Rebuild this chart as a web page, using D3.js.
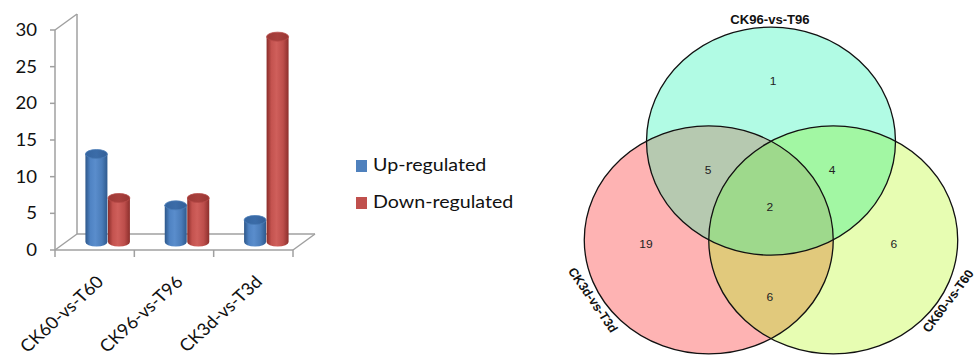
<!DOCTYPE html>
<html><head><meta charset="utf-8">
<script src="https://cdn.jsdelivr.net/npm/d3@7"></script>
<style>body{margin:0;background:#fff} svg{display:block}</style>
</head><body>
<svg id="chart" width="976" height="357"></svg>
<script>
// ---- bar chart data ----
const categories = ["CK60-vs-T60", "CK96-vs-T96", "CK3d-vs-T3d"];
const upRegulated = [12, 5, 3];
const downRegulated = [6, 6, 28];
const seriesNames = ["Up-regulated", "Down-regulated"];
const yTicks = [0, 5, 10, 15, 20, 25, 30];

// ---- venn data (membership: top, left, right) ----
const vennSets = ["CK96-vs-T96", "CK3d-vs-T3d", "CK60-vs-T60"];
const vennRegions = ["100", "110", "101", "111", "010", "001", "011"];
const vennCounts = [1, 5, 4, 2, 19, 6, 6];

const svg = d3.select("#chart");
const SX = 1.092;               // horizontal text stretch
const txtFont = "Lato, 'Open Sans', sans-serif";

// ---------- 3D column chart ----------
const depth = {dx: 22, dy: -16};
const x = d3.scaleBand().domain(categories).range([55, 293]).padding(0);
const yFront = d3.scaleLinear().domain([0, 30]).range([250, 30]);
const yMid = v => yFront(v) + depth.dy / 2;

const defs = svg.append("defs");
function cylGrad(id, stops) {
  const g = defs.append("linearGradient").attr("id", id)
    .attr("x1", "0%").attr("x2", "100%").attr("y1", "0%").attr("y2", "0%");
  stops.forEach(s => g.append("stop").attr("offset", s[0]).attr("stop-color", s[1]));
}
cylGrad("gUp", [["0%", "#2d578a"], ["22%", "#4f83c3"], ["45%", "#5a8dcc"], ["75%", "#4a7cb9"], ["100%", "#2f5a8e"]]);
cylGrad("gDown", [["0%", "#8a2d2a"], ["22%", "#c4534f"], ["45%", "#cf5f5b"], ["75%", "#bd4e4b"], ["100%", "#8c2f2c"]]);
cylGrad("cUp", [["0%", "#3565a0"], ["50%", "#3b6ca8"], ["100%", "#335f97"]]);
cylGrad("cDown", [["0%", "#9d3936"], ["50%", "#a8403d"], ["100%", "#983633"]]);

const wall = svg.append("g").attr("stroke", "#a0a0a0").attr("stroke-width", 1.5).attr("fill", "none");
const x0 = x.range()[0], x1 = x.range()[1];
const yTop = yFront(30), yBase = yFront(0);
const seg = (a, b, c, d) => wall.append("line").attr("x1", a).attr("y1", b).attr("x2", c).attr("y2", d);
seg(x0, yTop, x0, yBase);                                   // front left edge
seg(x0 + depth.dx, yTop + depth.dy, x0 + depth.dx, yBase + depth.dy); // back wall edge
seg(x0, yTop, x0 + depth.dx, yTop + depth.dy);
seg(x0, yBase, x0 + depth.dx, yBase + depth.dy);
seg(x0, yBase, x1, yBase);                                  // floor front
seg(x0 + depth.dx, yBase + depth.dy, x1 + depth.dx, yBase + depth.dy); // floor back
seg(x1, yBase, x1 + depth.dx, yBase + depth.dy);
yTicks.forEach(t => seg(x0 - 5, yFront(t), x0, yFront(t)));
[...categories.map(c => x(c)), x1].forEach(px => seg(px, yBase, px, yBase + 7));

svg.append("g").selectAll("text").data(yTicks).join("text")
  .attr("transform", d => `translate(37,${yFront(d)}) scale(${SX},1)`)
  .attr("text-anchor", "end").attr("dy", "0.35em")
  .attr("font-family", txtFont).attr("font-size", 17).attr("fill", "#111")
  .text(d => d);

svg.append("g").selectAll("text").data(categories).join("text")
  .attr("transform", d => `translate(${x(d) + x.bandwidth() / 2 + 10},${yBase + 33}) scale(${SX},1) rotate(-45)`)
  .attr("text-anchor", "end")
  .attr("font-family", txtFont).attr("font-size", 17).attr("fill", "#111")
  .text(d => d);

// cylinders
const bars = [];
categories.forEach((c, i) => {
  const cx = x(c) + x.bandwidth() / 2 + depth.dx / 2 + 2;
  bars.push({cat: c, s: 0, v: upRegulated[i], cx: cx - 11.25});
  bars.push({cat: c, s: 1, v: downRegulated[i], cx: cx + 11.25});
});
const rX = 11, rY = 4.5;
const bg = svg.append("g");
bars.forEach(b => {
  const top = yMid(b.v), bot = yMid(0);
  const g = bg.append("g");
  g.append("path")
    .attr("d", `M${b.cx - rX},${top} L${b.cx - rX},${bot} A${rX},${rY} 0 0 0 ${b.cx + rX},${bot} L${b.cx + rX},${top} Z`)
    .attr("fill", b.s === 0 ? "url(#gUp)" : "url(#gDown)");
  g.append("ellipse").attr("cx", b.cx).attr("cy", top).attr("rx", rX).attr("ry", rY)
    .attr("fill", b.s === 0 ? "url(#cUp)" : "url(#cDown)")
    .attr("stroke", b.s === 0 ? "#4a7cb8" : "#b84a47").attr("stroke-width", 0.8);
});

// legend
const legColors = ["#4f81bd", "#c0504d"];
const leg = svg.append("g");
seriesNames.forEach((n, i) => {
  const ly = 160 + i * 37;
  leg.append("rect").attr("x", 356).attr("y", ly).attr("width", 11).attr("height", 12).attr("fill", legColors[i]);
  leg.append("text").attr("transform", `translate(373,${ly + 11}) scale(${SX},1)`)
    .attr("font-family", txtFont).attr("font-size", 18).attr("fill", "#111").text(n);
});

// ---------- Venn diagram ----------
const vc = {x: 771, y: 207}, R = 114, dC = R / Math.sqrt(3);
const angles = [-90, 150, 30];
const circles = angles.map(a => ({
  cx: vc.x + SX * dC * Math.cos(a * Math.PI / 180),
  cy: vc.y + dC * Math.sin(a * Math.PI / 180)
}));
const regionColor = {
  "100": "#b1fbe4", "010": "#feb3b3", "001": "#e7fdb2",
  "110": "#b6c9b0", "101": "#a2f7a3", "011": "#e1c97c", "111": "#9ed98c"
};
circles.forEach((c, i) => {
  defs.append("clipPath").attr("id", "vc" + i)
    .append("ellipse").attr("cx", c.cx).attr("cy", c.cy).attr("rx", R * SX).attr("ry", R);
});
const vg = svg.append("g");
const ell = (sel, i) => sel.append("ellipse").attr("cx", circles[i].cx).attr("cy", circles[i].cy)
  .attr("rx", R * SX).attr("ry", R);
// single sets, then pairwise overlaps, then the triple overlap
[0, 1, 2].forEach(i => ell(vg, i).attr("fill", regionColor[["100", "010", "001"][i]]));
[[0, 1, "110"], [0, 2, "101"], [1, 2, "011"]].forEach(([a, b, k]) =>
  ell(vg.append("g").attr("clip-path", `url(#vc${a})`), b).attr("fill", regionColor[k]));
ell(vg.append("g").attr("clip-path", "url(#vc0)").append("g").attr("clip-path", "url(#vc1)"), 2)
  .attr("fill", regionColor["111"]);
[0, 1, 2].forEach(i => ell(vg, i).attr("fill", "none").attr("stroke", "#111").attr("stroke-width", 1.3));

// count label placement (unstretched offsets from the centre)
const regionOffset = {
  "100": [2, -126], "110": [-57.7, -36.5], "101": [56, -36.5], "111": [-1, 0.5],
  "010": [-114.5, 37.3], "001": [112.6, 37.3], "011": [-1, 89.7]
};
vg.append("g").selectAll("text").data(vennRegions).join("text")
  .attr("transform", k => `translate(${vc.x + SX * regionOffset[k][0]},${vc.y + regionOffset[k][1]}) scale(${SX},1)`)
  .attr("text-anchor", "middle").attr("dy", "0.35em")
  .attr("font-family", "'Liberation Sans', Arial, sans-serif").attr("font-size", 11).attr("fill", "#222")
  .text((k, i) => vennCounts[i]);

// set names
const setLabelPos = [
  {x: 770, y: 24, rot: 0},
  {x: 593, y: 300, rot: 57.6},
  {x: 948, y: 301, rot: -55.3}
];
vg.append("g").selectAll("text").data(vennSets).join("text")
  .attr("transform", (d, i) => `translate(${setLabelPos[i].x},${setLabelPos[i].y}) scale(${SX},1) rotate(${setLabelPos[i].rot})`)
  .attr("text-anchor", "middle").attr("dy", (d, i) => i === 0 ? 0 : "0.35em")
  .attr("font-family", "'Liberation Sans', Arial, sans-serif").attr("font-weight", "bold")
  .attr("font-size", 12).attr("fill", "#111")
  .text(d => d);
</script>
</body></html>
